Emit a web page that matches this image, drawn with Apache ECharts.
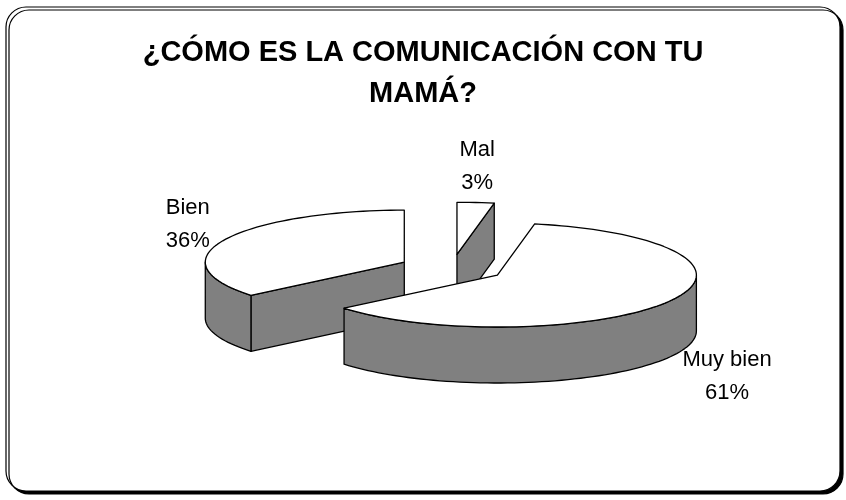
<!DOCTYPE html>
<html>
<head>
<meta charset="utf-8">
<script src="https://cdn.jsdelivr.net/npm/echarts@6/dist/echarts.min.js"></script>
<style>
  html, body { margin: 0; padding: 0; background: #fff; }
  #chart { width: 846px; height: 500px; }
</style>
</head>
<body>
<div id="chart"></div>
<script>
// datos de la encuesta
var categories = ['Mal', 'Muy bien', 'Bien'];
var values = [3, 61, 36];
var titleText = '¿CÓMO ES LA COMUNICACIÓN CON TU\nMAMÁ?';

// geometria del pastel 3D
var CX = 452, CY = 268;   // centro sin separar
var RA = 199, RB = 52;    // semiejes de la elipse
var DEPTH = 56;
var EXPLODE = 0.265;

var labelFont = '22px "Liberation Sans", Arial, sans-serif';

var total = values.reduce(function (s, v) { return s + v; }, 0);
var starts = [];
var acc = 0;
values.forEach(function (v) {
  starts.push(acc / total * 360);
  acc += v;
});

var measureCtx = document.createElement('canvas').getContext('2d');
measureCtx.font = labelFont;

function rad(d) { return d * Math.PI / 180; }

function pt(cx, cy, deg, k) {
  k = k || 1;
  return [cx + RA * k * Math.sin(rad(deg)), cy - RB * k * Math.cos(rad(deg))];
}

function arc(cx, cy, t1, t2, dy) {
  var pts = [];
  var n = Math.max(2, Math.ceil((t2 - t1) / 2));
  for (var i = 0; i <= n; i++) {
    var p = pt(cx, cy, t1 + (t2 - t1) * i / n);
    pts.push([p[0], p[1] + (dy || 0)]);
  }
  return pts;
}

function centerOf(i) {
  var t1 = starts[i];
  var t2 = t1 + values[i] / total * 360;
  var mid = (t1 + t2) / 2;
  var off = pt(0, 0, mid, EXPLODE);
  return { t1: t1, t2: t2, mid: mid, x: CX + off[0], y: CY + off[1] };
}

// orden de pintado: de atras hacia adelante
var order = values.map(function (v, i) { return i; })
  .sort(function (a, b) { return centerOf(a).y - centerOf(b).y; });

var lineStyle = { stroke: '#000', lineWidth: 1.3, lineJoin: 'round' };
var sideColor = '#808080';
var topColor = '#ffffff';

function renderItem(params, api) {
  var i = params.dataIndex;
  var c = centerOf(i);
  var rank = order.indexOf(i);
  var base = rank * 10;
  var children = [];

  // caras radiales visibles
  [[c.t1, c.t1 - 90], [c.t2, c.t2 + 90]].forEach(function (e) {
    if (Math.cos(rad(e[1])) < -0.01) {
      var p = pt(c.x, c.y, e[0]);
      children.push({
        type: 'polygon',
        z2: base + 1,
        shape: { points: [[c.x, c.y], p, [p[0], p[1] + DEPTH], [c.x, c.y + DEPTH]] },
        style: Object.assign({ fill: sideColor }, lineStyle)
      });
    }
  });

  // pared exterior
  var w1 = Math.max(c.t1, 90), w2 = Math.min(c.t2, 270);
  if (w2 > w1) {
    var topArc = arc(c.x, c.y, w1, w2, 0);
    var botArc = arc(c.x, c.y, w1, w2, DEPTH).reverse();
    children.push({
      type: 'polygon',
      z2: base + 2,
      shape: { points: topArc.concat(botArc) },
      style: Object.assign({ fill: sideColor }, lineStyle)
    });
  }

  // cara superior
  children.push({
    type: 'polygon',
    z2: base + 3,
    shape: { points: [[c.x, c.y]].concat(arc(c.x, c.y, c.t1, c.t2, 0)) },
    style: Object.assign({ fill: topColor }, lineStyle)
  });

  // etiqueta fuera del pastel
  var pct = Math.round(api.value(0) / total * 100);
  var lines = [categories[i], pct + '%'];
  var half = Math.max.apply(null, lines.map(function (s) {
    return measureCtx.measureText(s).width;
  })) / 2;
  var s = Math.sin(rad(c.mid)), co = Math.cos(rad(c.mid));
  var lx = c.x + RA * 1.08 * s;
  if (s > 0.3) lx += half;
  else if (s < -0.3) lx -= half;
  var ly = c.y - RB * 1.7 * co;
  if (co < 0) ly += DEPTH;
  children.push({
    type: 'text',
    z2: 100,
    style: {
      text: lines.join('\n'),
      x: lx,
      y: ly,
      align: 'center',
      verticalAlign: 'middle',
      font: labelFont,
      lineHeight: 33,
      fill: '#000'
    }
  });

  return { type: 'group', children: children };
}

var chart = echarts.init(document.getElementById('chart'), null, { renderer: 'canvas' });

var option = {
  backgroundColor: '#fff',
  animation: false,
  graphic: [{
    type: 'rect',
    z: -10,
    shape: { x: 6, y: 7, width: 834, height: 484, r: 20 },
    style: {
      fill: '#fff',
      stroke: '#000',
      lineWidth: 1.2,
      shadowColor: '#000',
      shadowOffsetX: 3,
      shadowOffsetY: 3,
      shadowBlur: 0
    }
  }],
  title: {
    text: titleText,
    left: 'center',
    top: 27,
    textStyle: {
      fontFamily: '"Liberation Sans", Arial, sans-serif',
      fontWeight: 'bold',
      fontSize: 29,
      lineHeight: 41,
      color: '#000'
    }
  },
  series: [{
    type: 'custom',
    coordinateSystem: 'none',
    renderItem: renderItem,
    data: values.map(function (v, i) { return { name: categories[i], value: v }; })
  }]
};

chart.setOption(option);
</script>
</body>
</html>
